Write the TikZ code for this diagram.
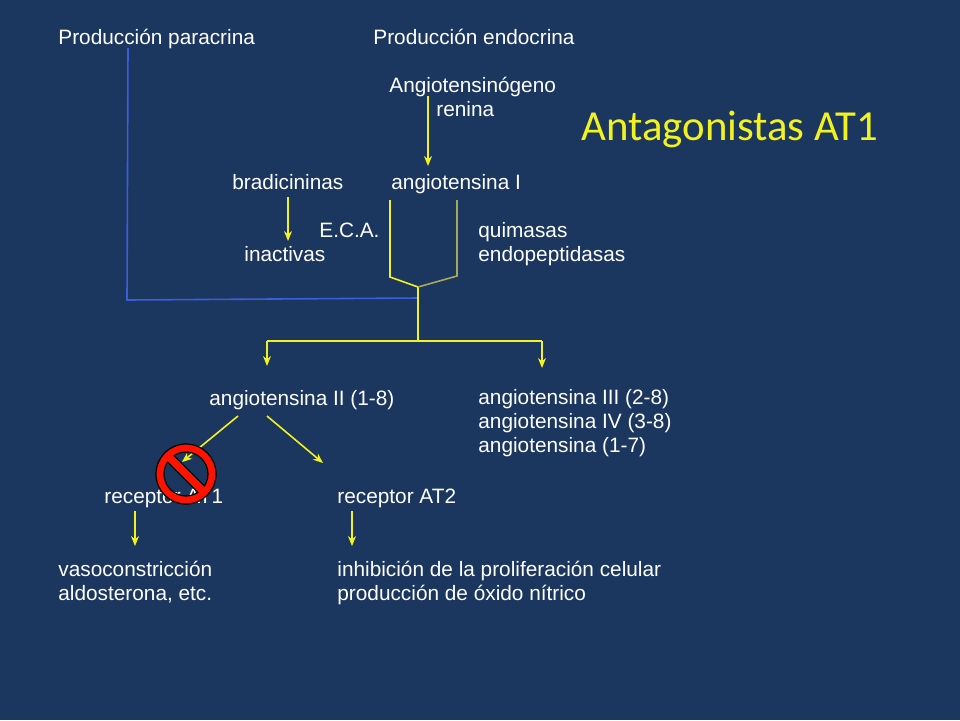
\documentclass[tikz,border=0pt]{standalone}
\usepackage{fontspec}
\setmainfont{Liberation Sans}
\newfontfamily\titlefont{Carlito}
\usetikzlibrary{arrows.meta, positioning}
\definecolor{fondo}{HTML}{1B365F}
\definecolor{amarillo}{HTML}{F2F21E}
\definecolor{oliva}{HTML}{A8A85A}
\definecolor{azul}{HTML}{3A5FD8}
\begin{document}
\begin{tikzpicture}[x=0.5pt,y=-0.5pt,>={Stealth[length=5pt,width=4pt]},
  txt/.style={text=white,font=\fontsize{10.4}{12}\selectfont,anchor=base west,inner sep=0pt},
  flecha/.style={draw=amarillo,thick,->},
  linea/.style={draw=amarillo,thick}]
\fill[fondo] (0,0) rectangle (960,720);
\useasboundingbox (0,0) rectangle (960,720);
%Knoten
\node (para) [txt] at (58,44) {Producción paracrina};
\node (endo) [txt] at (373,44) {Producción endocrina};
\node (angio) [txt] at (389,92) {Angiotensinógeno};
\node (ren) [txt] at (436,116) {renina};
\node (titulo) [anchor=base west,inner sep=0pt,text=amarillo,font=\titlefont\fontsize{21.4}{24}\selectfont] at (581,140) {Antagonistas AT1};
\node (brad) [txt] at (232,189) {bradicininas};
\node (ang1) [txt] at (391,189) {angiotensina I};
\node (eca) [txt] at (319,237) {E.C.A.};
\node (inac) [txt] at (244,261) {inactivas};
\node (quim) [txt,align=left,anchor=north west] at (478,222) {quimasas\\endopeptidasas};
\node (ang2) [txt] at (209,405) {angiotensina II (1-8)};
\node (ang3) [txt,align=left,anchor=north west] at (478,389) {angiotensina III (2-8)\\angiotensina IV (3-8)\\angiotensina (1-7)};
\node (rec1) [txt] at (104,503) {receptor AT1};
\node (rec2) [txt] at (337,503) {receptor AT2};
\node (vaso) [txt,align=left,anchor=north west] at (58,561) {vasoconstricción\\aldosterona, etc.};
\node (inhib) [txt,align=left,anchor=north west] at (337,561) {inhibición de la proliferación celular\\producción de óxido nítrico};
\coordinate (union) at (418,287);
\coordinate (rama) at (418,341);
%Verbindungen
\draw[azul,thick] (128,48) -- (127,300) -- (union|-0,298);
\draw[flecha] (428,96) -- (428,166);
\draw[flecha] (288,197) -- (288,241);
\draw[linea] (390,200) -- (390,277) -- (union) -- (rama);
\draw[oliva,thick] (457,200) -- (457,276) -- (union);
\draw[linea] (267,341) -- (542,341);
\draw[flecha] (267,341) -- (267,366);
\draw[flecha] (542,341) -- (542,368);
\draw[flecha] (238,416) -- (182,462);
\draw[flecha] (267,416) -- (323,463);
\draw[flecha] (135,511) -- (135,546);
\draw[flecha] (352,511) -- (352,546);
% Verbot
\draw[fill=red!85!orange,draw=black,line width=0.6pt,even odd rule] (186,474) circle (30) circle (22);
\fill[red!85!orange,rotate around={-45:(186,474)}] (163,469.5) rectangle (209,478.5);
\draw[black,line width=0.5pt,rotate around={-45:(186,474)}] (164,469.5) -- (208,469.5) (164,478.5) -- (208,478.5);
\end{tikzpicture}
\end{document}
